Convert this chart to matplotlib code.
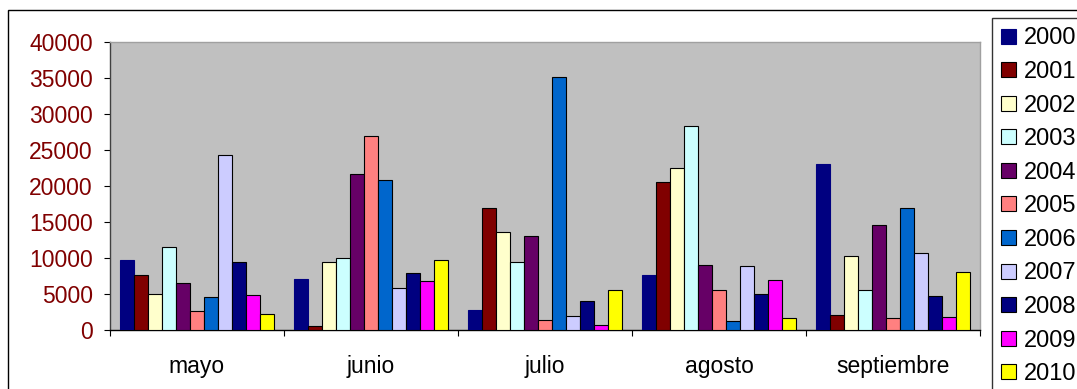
import matplotlib
matplotlib.use("Agg")
import matplotlib.pyplot as plt
import matplotlib.patches as mpatches
import numpy as np

months = ["mayo", "junio", "julio", "agosto", "septiembre"]
years = ["2000", "2001", "2002", "2003", "2004", "2005",
         "2006", "2007", "2008", "2009", "2010"]

# one list per year, values for mayo..septiembre
v2000 = [9700, 7100, 2800, 7600, 23000]
v2001 = [7700, 600, 17000, 20500, 2100]
v2002 = [5000, 9500, 13600, 22500, 10300]
v2003 = [11500, 10000, 9500, 28300, 5500]
v2004 = [6500, 21700, 13100, 9000, 14600]
v2005 = [2600, 26900, 1400, 5500, 1600]
v2006 = [4600, 20800, 35200, 1200, 16900]
v2007 = [24300, 5900, 2000, 8900, 10700]
v2008 = [9500, 7900, 4000, 5000, 4700]
v2009 = [4800, 6800, 700, 6900, 1800]
v2010 = [2200, 9700, 5600, 1600, 8100]

series = [v2000, v2001, v2002, v2003, v2004, v2005,
          v2006, v2007, v2008, v2009, v2010]
colors = ["#000080", "#800000", "#FFFFCC", "#CCFFFF", "#660066", "#FF8080",
          "#0066CC", "#CCCCFF", "#000080", "#FF00FF", "#FFFF00"]

plt.rcParams["font.family"] = ["Liberation Sans", "DejaVu Sans"]
FS = 16.5

W, H = 1077, 389
fig = plt.figure(figsize=(W / 100, H / 100), dpi=100)
ax = fig.add_axes([110 / W, (H - 330) / H, (980 - 110) / W, (330 - 42) / H])
ax.set_facecolor("#C0C0C0")

n = len(series)
group = 11 / 12.5
bw = group / n
x = np.arange(len(months))
for i, (vals, c) in enumerate(zip(series, colors)):
    off = -group / 2 + bw * (i + 0.5)
    ec = c if i == 0 else "black"
    ax.bar(x + off, vals, width=bw, color=c, edgecolor=ec, linewidth=0.8,
           label=years[i], zorder=3)

ax.set_xlim(-0.5, len(months) - 0.5)
ax.set_ylim(0, 40000)
ax.set_yticks(np.arange(0, 40001, 5000))
ax.tick_params(axis="y", length=4.3, width=0.8, pad=8, labelsize=FS,
               labelcolor="#800000", direction="out")

ax.set_xticks(x)
ax.set_xticklabels(months)
ax.set_xticks(np.arange(-0.5, len(months), 1), minor=True)
ax.tick_params(axis="x", which="major", length=0, pad=18, labelsize=FS)
ax.tick_params(axis="x", which="minor", length=4.3, width=0.8, direction="out")

ax.spines["left"].set_color("#404040")
ax.spines["bottom"].set_color("black")
ax.spines["top"].set_color("#A0A0A0")
ax.spines["right"].set_color("#A0A0A0")
for s in ax.spines.values():
    s.set_linewidth(1)

# outer chart frame
fig.patches.append(mpatches.Rectangle((8 / W, -0.2), 1.5, 1.2 - 10 / H,
                                      transform=fig.transFigure, fill=False,
                                      edgecolor="black", linewidth=1))

leg = fig.legend(loc="upper left", bbox_to_anchor=(992 / W, 1 - 18 / H),
                 fontsize=17, frameon=True, fancybox=False,
                 handlelength=0.6, handleheight=0.6, handletextpad=0.35,
                 labelspacing=0.49, borderpad=0.4, borderaxespad=0)
leg.get_frame().set_edgecolor("black")
leg.get_frame().set_linewidth(1)

fig.savefig("out.png", dpi=100)
